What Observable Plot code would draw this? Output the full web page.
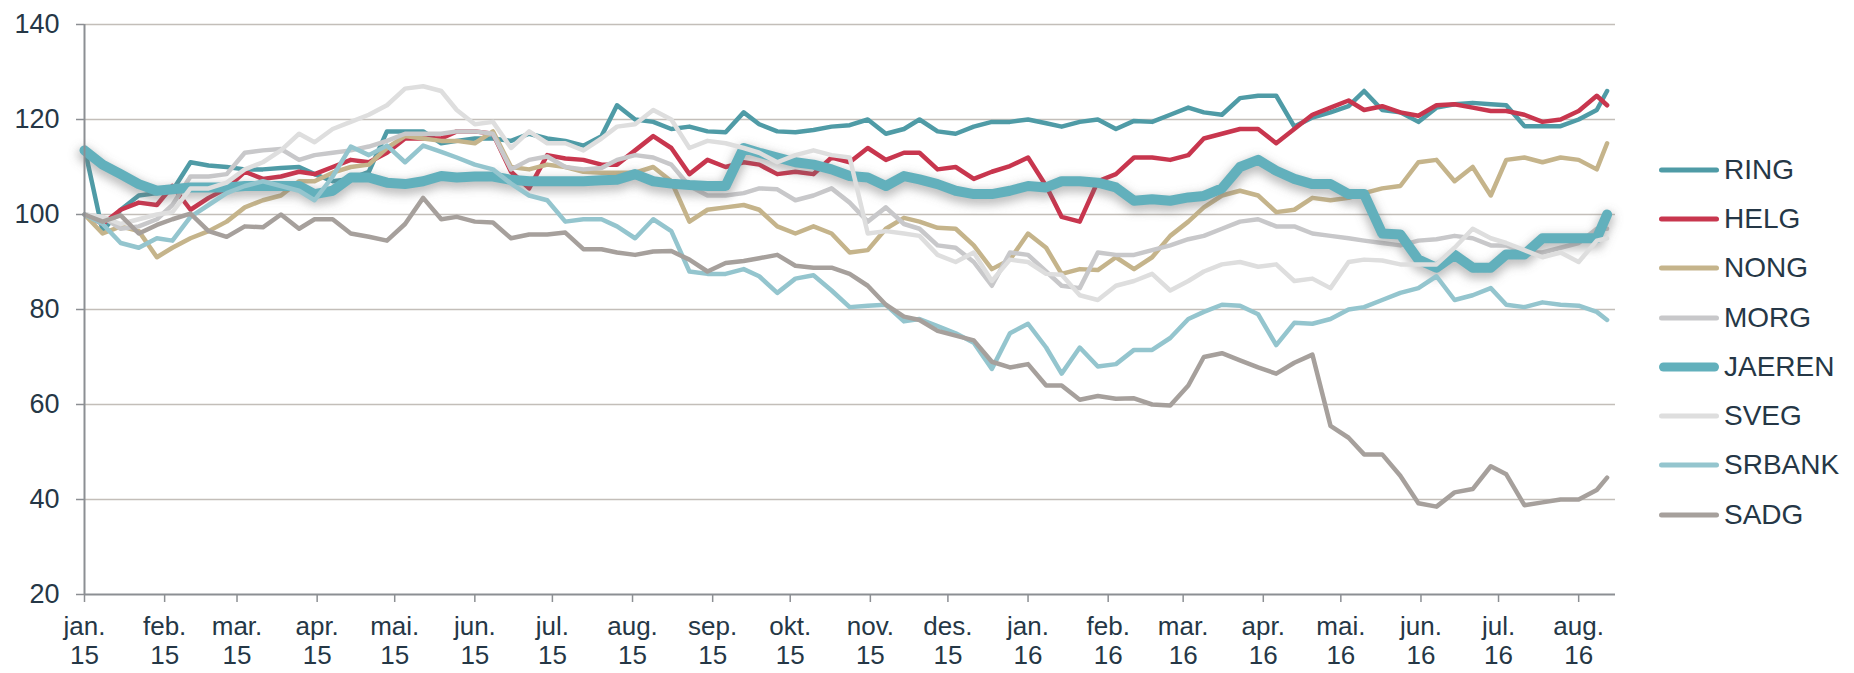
<!DOCTYPE html>
<html>
<head>
<meta charset="utf-8">
<script src="https://cdn.jsdelivr.net/npm/d3@7"></script>
<script src="https://cdn.jsdelivr.net/npm/@observablehq/plot@0.6"></script>
<style>
  html, body { margin: 0; padding: 0; background: #ffffff; }
  #wrap { position: relative; width: 1854px; height: 673px; font-family: "Liberation Sans", Arial, sans-serif; }
  #legend { position: absolute; left: 1659px; top: 145px; }
  .item { display: flex; align-items: center; height: 49.3px; font-size: 28px; color: #253746; white-space: nowrap; }
  .item svg { display: block; margin-right: 5px; }
</style>
</head>
<body>
<div id="wrap"><div id="chart"></div><div id="legend"></div></div>
<script>
// ---- data -------------------------------------------------------------
const dates = [
  "2015-01-01","2015-01-08","2015-01-15","2015-01-22","2015-01-29","2015-02-04","2015-02-11","2015-02-18","2015-02-25","2015-03-04",
  "2015-03-11","2015-03-18","2015-03-25","2015-03-31","2015-04-07","2015-04-14","2015-04-21","2015-04-28","2015-05-05","2015-05-12",
  "2015-05-19","2015-05-25","2015-06-01","2015-06-08","2015-06-15","2015-06-22","2015-06-29","2015-07-06","2015-07-13","2015-07-20",
  "2015-07-26","2015-08-02","2015-08-09","2015-08-16","2015-08-23","2015-08-30","2015-09-06","2015-09-13","2015-09-19","2015-09-26",
  "2015-10-03","2015-10-10","2015-10-17","2015-10-24","2015-10-31","2015-11-07","2015-11-14","2015-11-20","2015-11-27","2015-12-04",
  "2015-12-11","2015-12-18","2015-12-25","2016-01-01","2016-01-08","2016-01-14","2016-01-21","2016-01-28","2016-02-04","2016-02-11",
  "2016-02-18","2016-02-25","2016-03-03","2016-03-09","2016-03-16","2016-03-23","2016-03-30","2016-04-06","2016-04-13","2016-04-20",
  "2016-04-27","2016-05-04","2016-05-10","2016-05-17","2016-05-24","2016-05-31","2016-06-07","2016-06-14","2016-06-21","2016-06-28",
  "2016-07-04","2016-07-11","2016-07-18","2016-07-25","2016-08-01","2016-08-08","2016-08-12"
];

const seriesNames = ["RING", "HELG", "NONG", "MORG", "JAEREN", "SVEG", "SRBANK", "SADG"];

const ring = [
  114, 96.5, 101, 104, 104.5, 105, 111, 110.3, 110, 109.5,
  109.5, 109.8, 110, 108.5, 107, 107.5, 109, 117.5, 117.5, 117.5,
  115, 115.5, 116, 116, 115.5, 117, 116, 115.5, 114.5, 116.5,
  123, 120, 119.5, 118, 118.5, 117.5, 117.3, 121.5, 119, 117.5,
  117.3, 117.8, 118.5, 118.8, 120, 117, 118, 120, 117.5, 117,
  118.5, 119.5, 119.5, 120, 119.2, 118.5, 119.5, 120, 118, 119.7,
  119.5, 121, 122.5, 121.5, 121, 124.5, 125, 125, 118.5, 120.4,
  121.5, 122.8, 126, 122, 121.5, 119.5, 122.5, 123.2, 123.5, 123.2,
  123, 118.6, 118.6, 118.6, 120, 122, 126
];
const helg = [
  100, 98, 101, 102.5, 102, 106, 101, 103.5, 105.5, 109,
  107.5, 108, 109, 108.5, 110, 111.5, 111, 113, 116, 116,
  116, 117.5, 117.5, 117, 109, 105.5, 112.5, 111.8, 111.5, 110.5,
  110.5, 113.5, 116.5, 114, 108.5, 111.5, 110, 111, 110.5, 108.5,
  109, 108.5, 112, 111, 114, 111.5, 113, 113, 109.5, 110,
  107.5, 109, 110.2, 112, 106, 99.5, 98.5, 107, 108.5, 112,
  112, 111.5, 112.5, 116, 117, 118, 118, 115, 118, 121,
  122.5, 124, 122, 122.8, 121.5, 120.8, 123, 123.2, 122.5, 121.8,
  121.8, 121, 119.5, 120, 121.8, 125, 123
];
const nong = [
  100, 96, 97.5, 96.5, 91, 93, 95, 96.5, 98.5, 101.5,
  103, 104, 107, 107, 108.8, 110, 110.5, 114, 116.5, 116,
  115.5, 115.5, 115, 117.5, 110, 109.5, 110.5, 110, 109, 108.8,
  108.8, 108.8, 110, 107, 98.5, 101, 101.5, 102, 101, 97.5,
  96, 97.5, 96, 92, 92.5, 97, 99.3, 98.5, 97.2, 97,
  93.5, 88.5, 90.5, 96, 93, 87.5, 88.5, 88.3, 91, 88.5,
  91, 95.5, 98.5, 101.5, 104, 105, 104, 100.5, 101, 103.5,
  103, 103.5, 104.5, 105.5, 106, 111, 111.5, 107, 110, 104,
  111.5, 112, 111, 112, 111.5, 109.5, 115
];
const morg = [
  100, 99.5, 97, 97.5, 99, 102, 108, 108, 108.5, 113,
  113.5, 113.8, 111.5, 112.5, 113, 113.5, 114.3, 115.5, 117, 117,
  117, 117.5, 117.5, 117, 109.5, 111.5, 112.2, 110, 109.5, 109.8,
  111.5, 112.5, 112, 110.5, 106, 104, 104, 104.5, 105.5, 105.3,
  103, 104, 105.5, 102.5, 98.5, 101.5, 98, 97, 93.5, 93,
  90, 85, 92, 91.5, 88, 85, 84.5, 92, 91.5, 91.5,
  92.5, 93.5, 94.8, 95.5, 97, 98.5, 99, 97.5, 97.5, 96,
  95.5, 95, 94.5, 94, 93.5, 94.5, 94.8, 95.5, 95, 93.5,
  93.5, 92, 92, 93, 94, 97, 97
];
const jaeren = [
  113.5, 110.5, 108.5, 106.4, 105, 105.3, 105.7, 105.7, 105.7, 106,
  106, 106, 106, 104.3, 105, 107.8, 107.8, 106.7, 106.4, 107,
  108.1, 107.8, 108, 108, 107.3, 107, 107, 107, 107, 107.2,
  107.3, 108.5, 107, 106.5, 106.2, 106, 106, 114, 113, 112,
  111, 110.5, 109.5, 108.1, 107.8, 106, 108.1, 107.4, 106.4, 105,
  104.3, 104.3, 105, 106, 105.7, 107, 107, 106.7, 105.7, 102.9,
  103.2, 102.9, 103.6, 103.9, 105.5, 110, 111.5, 109.2, 107.5, 106.4,
  106.4, 104.3, 104.3, 96, 95.8, 90.5, 88.8, 91.5, 88.8, 88.8,
  91.6, 91.6, 95, 95, 95, 95, 100
];
const sveg = [
  100, 99.5, 98, 99, 100, 100.5, 105.5, 105.5, 106.7, 109.5,
  111, 113.5, 117, 115.2, 118, 119.5, 121, 123, 126.5, 127,
  126, 122, 119, 119.5, 114, 117.5, 115, 115, 113.5, 116,
  118.5, 119, 122, 120, 114, 115.5, 115, 114, 113, 111,
  112.5, 113.5, 112.5, 112, 96, 96.5, 96, 95.5, 91.5, 90,
  92, 86, 90.5, 90, 87.5, 87.3, 83, 82, 85, 86,
  87.5, 84, 86, 88, 89.5, 90, 89, 89.5, 86, 86.5,
  84.5, 90, 90.5, 90.3, 89.5, 89.5, 89.5, 93, 97, 95,
  94, 92.5, 91, 92, 90, 94.5, 95
];
const srbank = [
  100, 98, 94, 93, 95, 94.5, 99.5, 102, 104.5, 106,
  107, 106, 105, 103, 108, 114.3, 112.5, 114.5, 111, 114.5,
  113.2, 112, 110.5, 109.5, 106.5, 104, 103, 98.5, 99, 99,
  97.5, 95, 99, 96.5, 88, 87.5, 87.5, 88.5, 87, 83.5,
  86.5, 87.2, 84, 80.5, 80.8, 81, 77.5, 78, 76.5, 75,
  73, 67.5, 75, 77, 72, 66.5, 72, 68, 68.5, 71.5,
  71.5, 74, 78, 79.5, 81, 80.8, 79, 72.5, 77.2, 77,
  78, 80, 80.5, 82, 83.5, 84.5, 87, 82, 83, 84.5,
  81, 80.5, 81.5, 81, 80.8, 79.5, 77.8
];
const sadg = [
  100, 98.5, 99.8, 96, 97.8, 99, 100.2, 96.5, 95.3, 97.5,
  97.3, 100, 97, 99, 99, 96, 95.3, 94.5, 98, 103.5,
  99, 99.5, 98.5, 98.3, 95, 95.8, 95.8, 96.2, 92.7, 92.7,
  92, 91.5, 92.2, 92.3, 90.5, 88, 89.8, 90.2, 90.8, 91.5,
  89.2, 88.8, 88.8, 87.5, 85, 81, 78.5, 77.8, 75.5, 74.5,
  73.5, 69, 67.8, 68.5, 64, 64, 61, 61.8, 61.2, 61.3,
  60, 59.8, 64, 70, 70.8, 69.3, 67.8, 66.5, 68.8, 70.5,
  55.5, 53, 49.5, 49.5, 45, 39.2, 38.5, 41.5, 42.2, 47,
  45.3, 38.8, 39.4, 40, 40, 42, 44.6
];

const yTicks = [20, 40, 60, 80, 100, 120, 140];
const tickDates = [
  "2015-01-01","2015-02-01","2015-03-01","2015-04-01","2015-05-01","2015-06-01","2015-07-01","2015-08-01","2015-09-01","2015-10-01",
  "2015-11-01","2015-12-01","2016-01-01","2016-02-01","2016-03-01","2016-04-01","2016-05-01","2016-06-01","2016-07-01","2016-08-01"
];
const tickLabels = [
  "jan.\n15","feb.\n15","mar.\n15","apr.\n15","mai.\n15","jun.\n15","jul.\n15","aug.\n15","sep.\n15","okt.\n15",
  "nov.\n15","des.\n15","jan.\n16","feb.\n16","mar.\n16","apr.\n16","mai.\n16","jun.\n16","jul.\n16","aug.\n16"
];

// ---- styles ------------------------------------------------------------
const seriesColors = ["#4F9BA6", "#C8364E", "#C5B48B", "#C8C8CA", "#62B0BC", "#DEDEDE", "#94C5CE", "#A6A09C"];
const seriesWidths = [4.5, 4.5, 4.5, 4.5, 10, 4.5, 4.5, 4.5];
const legendWidths = [5, 5, 5, 5, 9, 5, 5, 5];
const textColor = "#253746";
const axisColor = "#8C8F93";
const gridColor = "#C3BEB9";

// ---- build -------------------------------------------------------------
const parse = s => new Date(s + "T00:00:00Z");
const valuesBySeries = [ring, helg, nong, morg, jaeren, sveg, srbank, sadg];
const rows = seriesNames.flatMap((name, i) =>
  valuesBySeries[i].map((v, j) => ({series: name, date: parse(dates[j]), value: v}))
);
const labelByTime = new Map(tickDates.map((s, i) => [parse(s).getTime(), tickLabels[i]]));

const lineMarks = [];
seriesNames.forEach((name, i) => {
  const data = rows.filter(d => d.series === name);
  if (name === "JAEREN") {
    lineMarks.push(Plot.line(data, {
      x: "date", y: "value", stroke: "#707070", strokeOpacity: 0.45,
      strokeWidth: 14, dy: 4, strokeLinecap: "round", strokeLinejoin: "round",
      ariaDescription: "jaeren-shadow"
    }));
  }
  lineMarks.push(Plot.line(data, {
    x: "date", y: "value", stroke: seriesColors[i], strokeWidth: seriesWidths[i],
    strokeLinecap: "round", strokeLinejoin: "round"
  }));
});

const chart = Plot.plot({
  width: 1854,
  height: 673,
  marginLeft: 84,
  marginRight: 239,
  marginTop: 24,
  marginBottom: 79,
  style: {fontFamily: "'Liberation Sans', Arial, sans-serif", fontSize: "26px", color: textColor, background: "#ffffff"},
  x: {type: "utc", domain: [parse("2015-01-01"), new Date("2016-08-15T06:00:00Z")]},
  y: {domain: [20, 140]},
  marks: [
    Plot.ruleY(yTicks.filter(d => d > 20), {stroke: gridColor, strokeWidth: 1.5}),
    ...lineMarks,
    Plot.ruleX([parse(tickDates[0])], {stroke: axisColor, strokeWidth: 2}),
    Plot.ruleY([20], {stroke: axisColor, strokeWidth: 2}),
    Plot.axisY({ticks: yTicks, tickSize: 8, tickPadding: 17, stroke: axisColor, strokeWidth: 1.5,
      fill: textColor, fontSize: 27, tickFormat: d => String(d), label: null}),
    Plot.axisX({ticks: tickDates.map(parse), tickSize: 8, tickPadding: 12, stroke: axisColor, strokeWidth: 1.5,
      fill: textColor, fontSize: 26, lineHeight: 1.12, tickFormat: d => labelByTime.get(+d), label: null})
  ]
});

// soft shadow under the JAEREN line
const ns = "http://www.w3.org/2000/svg";
const defs = document.createElementNS(ns, "defs");
defs.innerHTML = '<filter id="jshadow" filterUnits="userSpaceOnUse" x="0" y="0" width="1854" height="673"><feGaussianBlur stdDeviation="5"/></filter>';
chart.insertBefore(defs, chart.firstChild);
let shadowG = chart.querySelector('g[aria-description="jaeren-shadow"]');
if (!shadowG) shadowG = chart.querySelectorAll('g[aria-label="line"]')[4];
if (shadowG) shadowG.setAttribute("filter", "url(#jshadow)");

document.getElementById("chart").appendChild(chart);

// legend
const legend = document.getElementById("legend");
seriesNames.forEach((name, i) => {
  const item = document.createElement("div");
  item.className = "item";
  const w = legendWidths[i];
  item.innerHTML =
    `<svg width="60" height="14"><line x1="${w / 2}" y1="7" x2="${60 - w / 2}" y2="7" stroke="${seriesColors[i]}" stroke-width="${w}" stroke-linecap="round"/></svg><span>${name}</span>`;
  legend.appendChild(item);
});
</script>
</body>
</html>
